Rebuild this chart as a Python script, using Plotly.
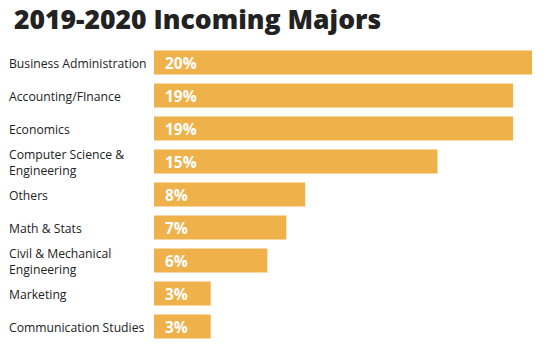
import plotly.graph_objects as go

# Share of incoming majors, 2019-2020
majors = [
    "Business Administration",
    "Accounting/FInance",
    "Economics",
    "Computer Science &<br>Engineering",
    "Others",
    "Math & Stats",
    "Civil & Mechanical<br>Engineering",
    "Marketing",
    "Communication Studies",
]
shares = [20, 19, 19, 15, 8, 7, 6, 3, 3]

BAR_COLOR = "#EFB14A"
TEXT_COLOR = "#222222"

fig = go.Figure(
    go.Bar(
        x=shares,
        y=majors,
        orientation="h",
        marker=dict(color=BAR_COLOR, line=dict(width=0)),
        hoverinfo="skip",
    )
)

# Category names, left-aligned in the margin
for name in majors:
    fig.add_annotation(
        x=0, y=name, xref="paper", yref="y",
        text=name, showarrow=False,
        xanchor="left", xshift=-147, yshift=-1,
        align="left",
        font=dict(family="Open Sans", size=12.2, color=TEXT_COLOR),
    )

# Percent labels inside each bar
for name, v in zip(majors, shares):
    fig.add_annotation(
        x=0, y=name, xref="x", yref="y",
        text=f"<b>{v}%</b>", showarrow=False,
        xanchor="left", xshift=9,
        font=dict(family="Open Sans", size=15.5, color="white"),
    )

fig.update_layout(
    width=547,
    height=346,
    margin=dict(l=154, r=15, t=46, b=3),
    paper_bgcolor="white",
    plot_bgcolor="white",
    showlegend=False,
    bargap=0.27,
    title=dict(
        text="2019-2020 Incoming Majors",
        x=14 / 547, xref="container", xanchor="left",
        y=1 - 20 / 346, yref="container", yanchor="middle",
        font=dict(family="Open Sans", size=26.5, weight=800, color=TEXT_COLOR),
    ),
    xaxis=dict(range=[0, 20], visible=False, fixedrange=True),
    yaxis=dict(
        autorange="reversed",
        showticklabels=False,
        showgrid=False,
        zeroline=False,
        fixedrange=True,
    ),
)

fig.write_html("out.html")
